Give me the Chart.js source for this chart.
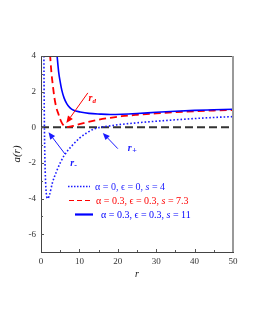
<!DOCTYPE html>
<html><head><meta charset="utf-8">
<script src="https://cdn.jsdelivr.net/npm/chart.js@4/dist/chart.umd.min.js"></script>
<style>html,body{margin:0;padding:0;background:#fff}#c{display:block}</style>
</head><body>
<canvas id="c" width="255" height="330"></canvas>
<script>
// Series: α=0, ϵ=0, s=4 (dotted blue)
const rDot = [0.75,0.8,0.9,1.0,1.2,1.5,1.8,2.2,3,4,5,6,8,10,12,14,16,18,20,25,30,35,40,45,50];
const aDot = [4.2,2.4,-0.2,-1.6,-3.1,-3.9,-4.0,-3.8,-3.1,-2.5,-2.0,-1.6,-1.05,-0.62,-0.3,-0.08,0.02,0.08,0.14,0.25,0.34,0.42,0.49,0.55,0.6];
// Series: α=0.3, ϵ=0.3, s=7.3 (dashed red)
const rRed = [2.35,2.7,3.0,3.5,4.0,4.5,5.0,5.5,6.0,6.7,7.5,8.5,10,12,15,18,21,25,30,35,40,45,50];
const aRed = [4.1,3.1,2.5,1.65,1.1,0.77,0.45,0.22,0.08,0.01,0.03,0.08,0.17,0.28,0.42,0.53,0.62,0.7,0.78,0.85,0.9,0.94,0.97];
// Series: α=0.3, ϵ=0.3, s=11 (solid blue)
const rBlue = [4.15,4.6,5.0,5.4,6.0,6.7,7.5,8.5,10.2,12.5,15.4,18,21,25,30,35,40,45,50];
const aBlue = [4.1,3.1,2.55,2.1,1.65,1.33,1.1,0.95,0.86,0.78,0.74,0.72,0.73,0.77,0.84,0.9,0.95,0.98,1.01];
// Horizontal reference line a(r)=0
const rZero = [0,50];
const aZero = [0,0];
const xTicks = [0,10,20,30,40,50];
const yTicks = [-6,-4,-2,0,2,4];
const legendLabels = [
  ["α = 0, ϵ = 0, ", "s", " = 4"],
  ["α = 0.3, ϵ = 0.3, ", "s", " = 7.3"],
  ["α = 0.3, ϵ = 0.3, ", "s", " = 11"]
];

const SERIF = "'Liberation Serif','DejaVu Serif',serif";
const pts = (xs, ys) => xs.map((x, i) => ({x, y: ys[i]}));

function arrow(ctx, x1, y1, x2, y2, color) {
  ctx.save();
  ctx.strokeStyle = color; ctx.fillStyle = color; ctx.lineWidth = 1;
  const ang = Math.atan2(y2 - y1, x2 - x1);
  const L = 7, W = 3;
  const bx = x2 - L * Math.cos(ang), by = y2 - L * Math.sin(ang);
  ctx.beginPath(); ctx.moveTo(x1, y1); ctx.lineTo(bx, by); ctx.stroke();
  ctx.beginPath(); ctx.moveTo(x2, y2);
  ctx.lineTo(bx + W * Math.sin(ang), by - W * Math.cos(ang));
  ctx.lineTo(bx - W * Math.sin(ang), by + W * Math.cos(ang));
  ctx.closePath(); ctx.fill();
  ctx.restore();
}

const deco = {
  id: 'deco',
  afterDatasetsDraw(chart) {
    const ctx = chart.ctx, a = chart.chartArea;
    const xs = chart.scales.x, ys = chart.scales.y;
    const X = v => xs.getPixelForValue(v), Y = v => ys.getPixelForValue(v);
    ctx.save();
    // frame
    ctx.strokeStyle = '#444'; ctx.lineWidth = 1;
    ctx.beginPath(); ctx.moveTo(a.left, a.top + 0.5); ctx.lineTo(a.right, a.top + 0.5); ctx.stroke();
    ctx.strokeStyle = '#999'; ctx.lineWidth = 2;
    ctx.beginPath(); ctx.moveTo(a.right, a.top); ctx.lineTo(a.right, a.bottom); ctx.stroke();
    // inward ticks
    ctx.strokeStyle = '#555'; ctx.lineWidth = 1;
    for (let v = 5; v < 50; v += 5) {
      const px = Math.round(X(v)) + 0.5;
      ctx.beginPath(); ctx.moveTo(px, a.bottom); ctx.lineTo(px, a.bottom - (v % 10 === 0 ? 3 : 2)); ctx.stroke();
    }
    for (let v = -6; v <= 4; v += 1) {
      const py = Math.round(Y(v)) + 0.5;
      ctx.beginPath(); ctx.moveTo(a.left, py); ctx.lineTo(a.left + (v % 2 === 0 ? 3 : 2), py); ctx.stroke();
    }
    // annotations
    arrow(ctx, X(12.2), Y(1.93), X(6.6), Y(0.24), '#ff0000');
    arrow(ctx, X(6.25), Y(-1.5), X(1.95), Y(-0.28), '#1a1aff');
    arrow(ctx, X(20.0), Y(-1.2), X(16.1), Y(-0.32), '#1a1aff');
    ctx.textBaseline = 'alphabetic'; ctx.textAlign = 'left';
    ctx.fillStyle = '#ff0000';
    ctx.font = "italic bold 10px " + SERIF; ctx.fillText('r', X(12.4), Y(1.45));
    ctx.font = "italic bold 7px " + SERIF; ctx.fillText('d', X(12.4) + 4, Y(1.45) + 2);
    ctx.fillStyle = '#1a1aff';
    ctx.font = "italic bold 10px " + SERIF; ctx.fillText('r', X(7.6), Y(-2.15));
    ctx.font = "bold 8px " + SERIF; ctx.fillText('-', X(7.6) + 4, Y(-2.15) + 2);
    ctx.font = "italic bold 10px " + SERIF; ctx.fillText('r', X(22.6), Y(-1.35));
    ctx.font = "bold 8px " + SERIF; ctx.fillText('+', X(22.6) + 4.5, Y(-1.35) + 2);
    // legend
    const rows = [
      {y: 190, sx1: 68, sx2: 90, tx: 95, color: '#1a1aff', dash: [1.5, 1.5], lw: 1.5},
      {y: 204, sx1: 69, sx2: 92, tx: 96, color: '#ff0000', dash: [5, 3], lw: 1.2},
      {y: 218, sx1: 75, sx2: 93, tx: 101, color: '#0000ff', dash: [], lw: 2.2}
    ];
    rows.forEach((r, i) => {
      ctx.strokeStyle = r.color; ctx.lineWidth = r.lw; ctx.setLineDash(r.dash);
      ctx.beginPath(); ctx.moveTo(r.sx1, r.y - 3.5); ctx.lineTo(r.sx2, r.y - 3.5); ctx.stroke();
      ctx.setLineDash([]);
      ctx.fillStyle = r.color;
      let x = r.tx;
      legendLabels[i].forEach((seg, k) => {
        ctx.font = (k === 1 ? 'italic ' : '') + '10px ' + SERIF;
        ctx.fillText(seg, x, r.y);
        x += ctx.measureText(seg).width;
      });
    });
    ctx.restore();
  }
};

new Chart(document.getElementById('c'), {
  type: 'line',
  data: {
    datasets: [
      {data: pts(rZero, aZero), borderColor: '#333', borderWidth: 2, borderDash: [8, 4], pointRadius: 0, order: 4},
      {data: pts(rDot, aDot), borderColor: '#1a1aff', borderWidth: 1.6, borderDash: [1.6, 2], pointRadius: 0, cubicInterpolationMode: 'monotone', order: 3},
      {data: pts(rRed, aRed), borderColor: '#ff0000', borderWidth: 1.8, borderDash: [7, 4], pointRadius: 0, cubicInterpolationMode: 'monotone', order: 2},
      {data: pts(rBlue, aBlue), borderColor: '#0000ff', borderWidth: 1.6, pointRadius: 0, cubicInterpolationMode: 'monotone', order: 1}
    ]
  },
  options: {
    responsive: false, animation: false,
    layout: {padding: {left: 0, right: 22, top: 56, bottom: 50}},
    plugins: {legend: {display: false}, tooltip: {enabled: false}},
    scales: {
      x: {
        type: 'linear', min: 0, max: 50,
        afterBuildTicks: s => { s.ticks = xTicks.map(v => ({value: v})); },
        afterFit: s => { s.height = 28; },
        grid: {display: false, drawTicks: false},
        border: {display: true, color: '#444', width: 1},
        ticks: {padding: 4, color: '#333', font: {family: SERIF, size: 9}, maxRotation: 0},
        title: {display: true, text: 'r', color: '#111', padding: {top: 0, bottom: 0}, font: {family: SERIF, size: 10, style: 'italic'}}
      },
      y: {
        type: 'linear', min: -7, max: 4,
        afterBuildTicks: s => { s.ticks = yTicks.map(v => ({value: v})); },
        afterFit: s => { s.width = 41; },
        grid: {display: false, drawTicks: false},
        border: {display: true, color: '#444', width: 1},
        ticks: {padding: 5, color: '#333', font: {family: SERIF, size: 9}},
        title: {display: true, text: 'a(r)', color: '#111', padding: {top: 11, bottom: 0}, font: {family: SERIF, size: 11, style: 'italic'}}
      }
    }
  },
  plugins: [deco]
});
</script>
</body></html>
